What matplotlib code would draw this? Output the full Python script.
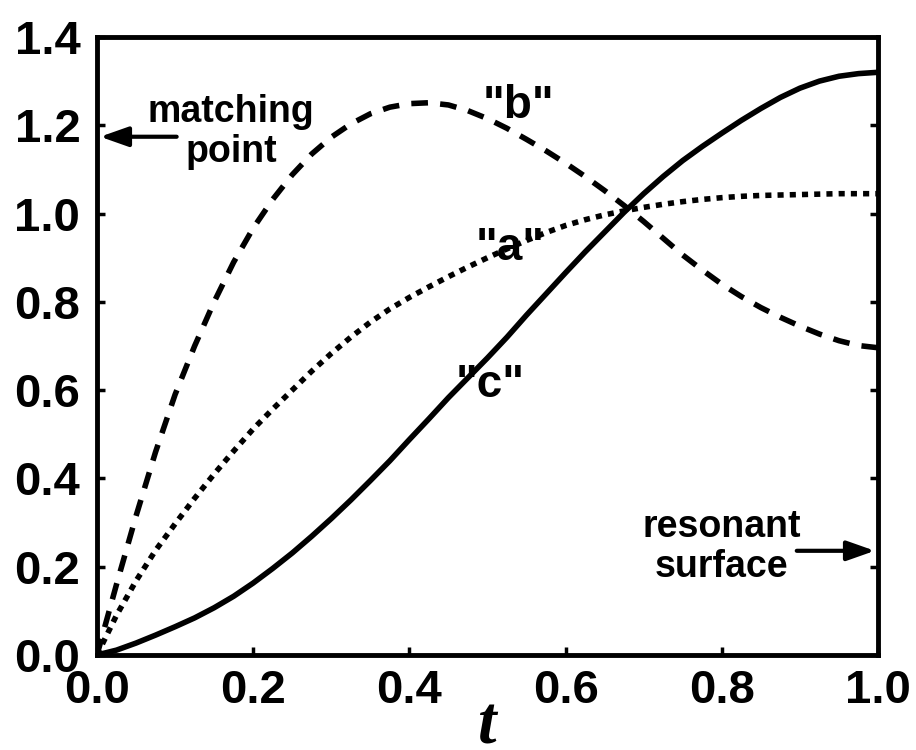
import matplotlib
matplotlib.use("Agg")
import matplotlib.pyplot as plt

# radial coordinate
t = [0.0, 0.025, 0.05, 0.075, 0.1, 0.125, 0.15, 0.175, 0.2, 0.225,
     0.25, 0.275, 0.3, 0.325, 0.35, 0.375, 0.4, 0.425, 0.45, 0.475,
     0.5, 0.525, 0.55, 0.575, 0.6, 0.625, 0.65, 0.675, 0.7, 0.725,
     0.75, 0.775, 0.8, 0.825, 0.85, 0.875, 0.9, 0.925, 0.95, 0.975, 1.0]

# profile "a" (dotted)
curve_a = [0.0, 0.09, 0.168, 0.237, 0.297, 0.355, 0.41, 0.462, 0.512, 0.557,
           0.60, 0.643, 0.683, 0.72, 0.754, 0.784, 0.81, 0.834, 0.857, 0.879,
           0.90, 0.92, 0.939, 0.957, 0.973, 0.986, 0.997, 1.006, 1.014, 1.021,
           1.027, 1.032, 1.036, 1.039, 1.041, 1.042, 1.043, 1.044, 1.045, 1.045, 1.045]

# profile "b" (dashed)
curve_b = [0.0, 0.16, 0.315, 0.46, 0.59, 0.70, 0.80, 0.89, 0.967, 1.032,
           1.088, 1.135, 1.173, 1.203, 1.226, 1.241, 1.249, 1.251, 1.246, 1.233,
           1.215, 1.193, 1.168, 1.142, 1.114, 1.084, 1.052, 1.018, 0.982, 0.944,
           0.906, 0.872, 0.84, 0.812, 0.787, 0.765, 0.745, 0.727, 0.712, 0.701, 0.696]

# profile "c" (solid)
curve_c = [0.0, 0.011, 0.027, 0.045, 0.064, 0.084, 0.107, 0.133, 0.163, 0.196,
           0.231, 0.269, 0.309, 0.351, 0.395, 0.44, 0.488, 0.535, 0.583, 0.628,
           0.673, 0.72, 0.77, 0.818, 0.866, 0.913, 0.958, 1.003, 1.045, 1.084,
           1.12, 1.152, 1.182, 1.211, 1.238, 1.263, 1.284, 1.30, 1.311, 1.317, 1.32]

x_ticks = [0.0, 0.2, 0.4, 0.6, 0.8, 1.0]
y_ticks = [0.0, 0.2, 0.4, 0.6, 0.8, 1.0, 1.2, 1.4]

SANS = ["Liberation Sans", "DejaVu Sans"]

fig = plt.figure(figsize=(9.16, 7.5), dpi=100)
ax = fig.add_axes([0.1059, 0.1267, 0.8526, 0.824])

ax.plot(t, curve_c, color="black", lw=4, solid_capstyle="butt", solid_joinstyle="round")
ax.plot(t, curve_b, color="black", lw=4, dashes=(3.0, 2.2), dash_capstyle="butt")
ax.plot(t, curve_a, color="black", lw=4, dashes=(1.1, 1.1), dash_capstyle="butt")

ax.set_xlim(0, 1)
ax.set_ylim(0, 1.4)
ax.set_xticks(x_ticks)
ax.set_yticks(y_ticks)
ax.set_xticklabels([f"{v:.1f}" for v in x_ticks], family=SANS, weight="bold", fontsize=34)
ax.set_yticklabels([f"{v:.1f}" for v in y_ticks], family=SANS, weight="bold", fontsize=34)
ax.tick_params(axis="both", direction="in", length=6, width=2.5, right=True, top=False)
ax.tick_params(axis="x", pad=10)
ax.tick_params(axis="y", pad=12)
for s in ax.spines.values():
    s.set_linewidth(3.5)

ax.set_xlabel("t", family=["Liberation Serif", "DejaVu Serif"], style="italic",
              weight="bold", fontsize=48, labelpad=-12)

lab = dict(family=SANS, weight="bold", fontsize=33, ha="center", va="center")
ax.text(0.539, 1.243, '"b"', **lab)
ax.text(0.529, 0.923, '"a"', **lab)
ax.text(0.503, 0.612, '"c"', **lab)

note = dict(family=SANS, weight="bold", fontsize=27, ha="center", va="center",
            linespacing=1.15)
ax.text(0.172, 1.185, "matching\npoint", **note)
ax.text(0.80, 0.245, "resonant\nsurface", **note)

arrow = dict(arrowstyle="-|>,head_length=0.85,head_width=0.3", color="black",
             lw=3, shrinkA=0, shrinkB=0, mutation_scale=20)
ax.annotate("", xy=(0.004, 1.174), xytext=(0.102, 1.174), arrowprops=arrow)
ax.annotate("", xy=(0.996, 0.236), xytext=(0.896, 0.236), arrowprops=arrow)

fig.savefig("out.png", dpi=100)
